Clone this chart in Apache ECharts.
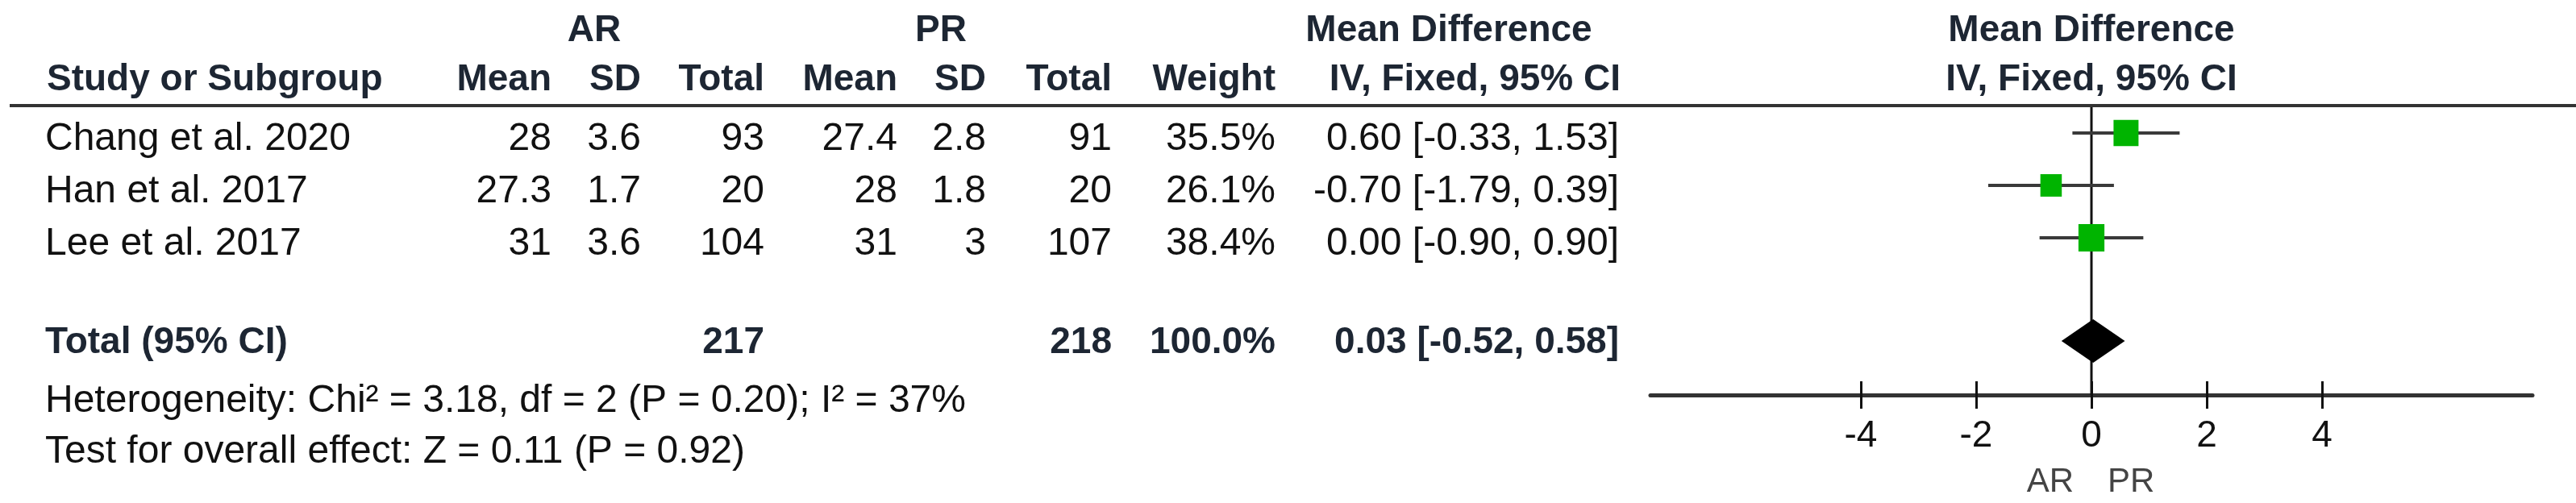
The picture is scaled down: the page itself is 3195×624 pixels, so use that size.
<!DOCTYPE html>
<html>
<head>
<meta charset="utf-8">
<script src="https://cdn.jsdelivr.net/npm/echarts@6/dist/echarts.min.js"></script>
<style>
  html, body { margin: 0; padding: 0; background: #fff; }
  #chart { width: 3195px; height: 624px; }
</style>
</head>
<body>
<div id="chart"></div>
<script>
// study data
var studies = ['Chang et al. 2020', 'Han et al. 2017', 'Lee et al. 2017'];
var arMean = [28, 27.3, 31];
var arSD = [3.6, 1.7, 3.6];
var arTotal = [93, 20, 104];
var prMean = [27.4, 28, 31];
var prSD = [2.8, 1.8, 3];
var prTotal = [91, 20, 107];
var weights = [35.5, 26.1, 38.4];
var md = [0.60, -0.70, 0.00];
var ciLow = [-0.33, -1.79, -0.90];
var ciHigh = [1.53, 0.39, 0.90];

// pooled result
var sumAR = 217;
var sumPR = 218;
var sumWeight = 100.0;
var pooledMd = 0.03;
var pooledLow = -0.52;
var pooledHigh = 0.58;
var heteroText = 'Heterogeneity: Chi\u00b2 = 3.18, df = 2 (P = 0.20); I\u00b2 = 37%';
var overallText = 'Test for overall effect: Z = 0.11 (P = 0.92)';

var xTicks = [-4, -2, 0, 2, 4];
var favours = ['AR', 'PR'];

// layout (px on the table axis)
var FONT = '"Liberation Sans", Arial, sans-serif';
var nameX = 56;
var col = { arMean: 684, arSD: 795, arN: 948, prMean: 1113, prSD: 1223, prN: 1379, weight: 1582, ci: 2008 };
var headTop = -2.07, headSub = -1.14, totalRow = 3.88, heteroRow = 4.99, testRow = 5.97, favRow = 6.54;

function fmt2(v) { return v.toFixed(2); }
function ciStr(m, lo, hi) { return fmt2(m) + ' [' + fmt2(lo) + ', ' + fmt2(hi) + ']'; }

var cells = [];
function cell(text, x, row, align, bold, size, color) {
  cells.push({ text: text, x: x, row: row, align: align, bold: !!bold, size: size || 48, color: color || '#111' });
}

// headers
var hc = '#1d2633';
cell('AR', 737, headTop, 'center', true, 46, hc);
cell('PR', 1167, headTop, 'center', true, 46, hc);
cell('Mean Difference', 1797, headTop, 'center', true, 46, hc);
cell('Mean Difference', 2594, headTop, 'center', true, 46, hc);
cell('Study or Subgroup', 58, headSub, 'left', true, 46, hc);
cell('Mean', col.arMean, headSub, 'right', true, 46, hc);
cell('SD', col.arSD, headSub, 'right', true, 46, hc);
cell('Total', col.arN, headSub, 'right', true, 46, hc);
cell('Mean', col.prMean, headSub, 'right', true, 46, hc);
cell('SD', col.prSD, headSub, 'right', true, 46, hc);
cell('Total', col.prN, headSub, 'right', true, 46, hc);
cell('Weight', col.weight, headSub, 'right', true, 46, hc);
cell('IV, Fixed, 95% CI', 2010, headSub, 'right', true, 46, hc);
cell('IV, Fixed, 95% CI', 2594, headSub, 'center', true, 46, hc);

// study rows
studies.forEach(function (s, i) {
  cell(s, nameX, i, 'left');
  cell(String(arMean[i]), col.arMean, i, 'right');
  cell(String(arSD[i]), col.arSD, i, 'right');
  cell(String(arTotal[i]), col.arN, i, 'right');
  cell(String(prMean[i]), col.prMean, i, 'right');
  cell(String(prSD[i]), col.prSD, i, 'right');
  cell(String(prTotal[i]), col.prN, i, 'right');
  cell(weights[i].toFixed(1) + '%', col.weight, i, 'right');
  cell(ciStr(md[i], ciLow[i], ciHigh[i]), col.ci, i, 'right');
});

// total row
cell('Total (95% CI)', nameX, totalRow, 'left', true, 46, hc);
cell(String(sumAR), col.arN, totalRow, 'right', true, 46, hc);
cell(String(sumPR), col.prN, totalRow, 'right', true, 46, hc);
cell(sumWeight.toFixed(1) + '%', col.weight, totalRow, 'right', true, 46, hc);
cell(ciStr(pooledMd, pooledLow, pooledHigh), col.ci, totalRow, 'right', true, 46, hc);
cell(heteroText, nameX, heteroRow, 'left');
cell(overallText, nameX, testRow, 'left');
cell(favours[0], 2572, favRow, 'right', false, 42, '#444');
cell(favours[1], 2614, favRow, 'left', false, 42, '#444');

var myChart = echarts.init(document.getElementById('chart'));

myChart.setOption({
  animation: false,
  backgroundColor: '#fff',
  grid: [
    // forest plot
    { left: 2047, right: 54, top: 132.5, height: 357.5 },
    // table (x in px)
    { left: 0, right: 0, top: 4, height: 617.5 }
  ],
  xAxis: [
    {
      gridIndex: 0, type: 'value', min: -7.65, max: 7.65, position: 'bottom',
      axisLine: { show: true, onZero: false, lineStyle: { color: '#333', width: 5 } },
      axisTick: { show: true, customValues: xTicks, length: 17, lineStyle: { color: '#111', width: 3 } },
      axisLabel: { show: true, customValues: xTicks, margin: 28, fontSize: 46, color: '#111', fontFamily: FONT },
      splitLine: { show: false }
    },
    {
      // ticks above the axis line
      gridIndex: 0, type: 'value', min: -7.65, max: 7.65, position: 'bottom',
      axisLine: { show: false, onZero: false },
      axisTick: { show: true, inside: true, customValues: xTicks, length: 17, lineStyle: { color: '#111', width: 3 } },
      axisLabel: { show: false },
      splitLine: { show: false }
    },
    { gridIndex: 1, type: 'value', min: 0, max: 3195, show: false }
  ],
  yAxis: [
    { gridIndex: 0, type: 'value', inverse: true, min: -0.5, max: 5.0, show: false },
    { gridIndex: 1, type: 'value', inverse: true, min: -2.6, max: 6.9, show: false }
  ],
  series: [
    {
      // zero line + pooled diamond
      type: 'custom', xAxisIndex: 0, yAxisIndex: 0, z: 1,
      data: [[pooledMd, pooledLow, pooledHigh, 3.97]],
      renderItem: function (params, api) {
        var row = api.value(3);
        var top = api.coord([0, -0.5]);
        var bot = api.coord([0, 5.0]);
        var l = api.coord([api.value(1), row]);
        var r = api.coord([api.value(2), row]);
        var m = api.coord([api.value(0), row]);
        var h = 27;
        return {
          type: 'group',
          children: [
            { type: 'line', shape: { x1: top[0], y1: top[1], x2: bot[0], y2: bot[1] }, style: { stroke: '#111', lineWidth: 3 } },
            { type: 'polygon', shape: { points: [[l[0], l[1]], [m[0], m[1] - h], [r[0], r[1]], [m[0], m[1] + h]] }, style: { fill: '#000' } }
          ]
        };
      }
    },
    {
      // study CI lines and weight squares
      type: 'custom', xAxisIndex: 0, yAxisIndex: 0, z: 3,
      data: studies.map(function (s, i) { return [md[i], ciLow[i], ciHigh[i], i, weights[i]]; }),
      renderItem: function (params, api) {
        var row = api.value(3);
        var a = api.coord([api.value(1), row]);
        var b = api.coord([api.value(2), row]);
        var m = api.coord([api.value(0), row]);
        var w = 5.2 * Math.sqrt(api.value(4));
        var h = w * 1.05;
        return {
          type: 'group',
          children: [
            { type: 'line', shape: { x1: a[0], y1: a[1], x2: b[0], y2: b[1] }, style: { stroke: '#3a3a3a', lineWidth: 4 } },
            { type: 'rect', shape: { x: m[0] - w / 2, y: m[1] - h / 2, width: w, height: h }, style: { fill: '#00b400' } }
          ]
        };
      }
    },
    {
      // header rule
      type: 'custom', xAxisIndex: 2, yAxisIndex: 1, z: 2,
      data: [[12, 3195, -0.646]],
      renderItem: function (params, api) {
        var a = api.coord([api.value(0), api.value(2)]);
        var b = api.coord([api.value(1), api.value(2)]);
        return { type: 'line', shape: { x1: a[0], y1: a[1], x2: b[0], y2: b[1] }, style: { stroke: '#333', lineWidth: 4 } };
      }
    },
    {
      // table text
      type: 'custom', xAxisIndex: 2, yAxisIndex: 1, z: 4,
      data: cells.map(function (c) { return [c.x, c.row]; }),
      renderItem: function (params, api) {
        var c = cells[params.dataIndex];
        var p = api.coord([api.value(0), api.value(1)]);
        return {
          type: 'text', x: p[0], y: p[1],
          style: {
            text: c.text, fill: c.color,
            font: (c.bold ? 'bold ' : '') + c.size + 'px ' + FONT,
            align: c.align, verticalAlign: 'middle'
          }
        };
      }
    }
  ]
});
</script>
</body>
</html>
